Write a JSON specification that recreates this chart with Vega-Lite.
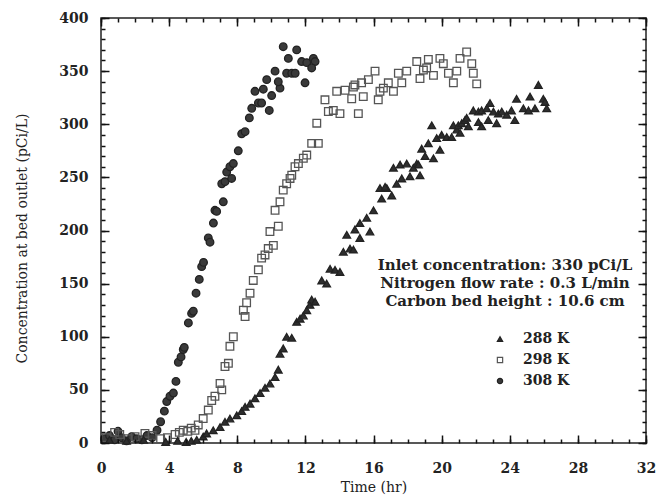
{
 "$schema": "https://vega.github.io/schema/vega-lite/v6.json",
 "width": 545,
 "height": 425,
 "autosize": {"type": "none"},
 "padding": {"left": 101, "top": 18, "right": 14, "bottom": 54},
 "background": "white",
 "config": {"view": {"stroke": "#222", "strokeWidth": 1.5, "fill": "transparent"}, "font": "DejaVu Serif",
  "text": {"font": "DejaVu Serif", "fontWeight": "bold", "fontSize": 15, "align": "center", "baseline": "middle", "color": "#222"}},
 "layer": [
  {
   "data": {"values": [
    {"t":0.2,"c":4,"s":"308 K"},{"t":0.5,"c":7,"s":"308 K"},{"t":0.8,"c":3,"s":"308 K"},{"t":1.0,"c":11,"s":"308 K"},{"t":1.2,"c":5,"s":"308 K"},{"t":1.5,"c":2,"s":"308 K"},{"t":1.8,"c":6,"s":"308 K"},{"t":2.1,"c":4,"s":"308 K"},{"t":2.4,"c":3,"s":"308 K"},{"t":2.7,"c":7,"s":"308 K"},{"t":3.0,"c":5,"s":"308 K"},
    {"t":3.29,"c":12,"s":"308 K"},{"t":3.5,"c":20,"s":"308 K"},{"t":3.72,"c":30,"s":"308 K"},{"t":3.86,"c":39,"s":"308 K"},{"t":4.05,"c":44,"s":"308 K"},{"t":4.25,"c":47,"s":"308 K"},{"t":4.4,"c":58,"s":"308 K"},{"t":4.54,"c":76,"s":"308 K"},{"t":4.7,"c":81,"s":"308 K"},{"t":4.83,"c":88,"s":"308 K"},{"t":4.89,"c":90,"s":"308 K"},{"t":5.13,"c":113,"s":"308 K"},{"t":5.32,"c":122,"s":"308 K"},{"t":5.42,"c":124,"s":"308 K"},{"t":5.58,"c":141,"s":"308 K"},{"t":5.77,"c":154,"s":"308 K"},{"t":5.91,"c":166,"s":"308 K"},{"t":6.02,"c":170,"s":"308 K"},{"t":6.3,"c":193,"s":"308 K"},{"t":6.4,"c":189,"s":"308 K"},{"t":6.6,"c":207,"s":"308 K"},{"t":6.69,"c":219,"s":"308 K"},{"t":6.79,"c":218,"s":"308 K"},{"t":7.18,"c":227,"s":"308 K"},
    {"t":7.09,"c":244,"s":"308 K"},{"t":7.28,"c":246,"s":"308 K"},{"t":7.67,"c":249,"s":"308 K"},{"t":7.38,"c":255,"s":"308 K"},{"t":7.57,"c":260,"s":"308 K"},{"t":7.77,"c":263,"s":"308 K"},{"t":8.06,"c":275,"s":"308 K"},{"t":8.26,"c":291,"s":"308 K"},{"t":8.46,"c":293,"s":"308 K"},{"t":8.71,"c":306,"s":"308 K"},{"t":8.85,"c":315,"s":"308 K"},{"t":9.24,"c":320,"s":"308 K"},{"t":9.43,"c":320,"s":"308 K"},{"t":9.88,"c":313,"s":"308 K"},{"t":10.02,"c":327,"s":"308 K"},{"t":9.04,"c":331,"s":"308 K"},{"t":9.53,"c":333,"s":"308 K"},{"t":10.51,"c":334,"s":"308 K"},{"t":9.73,"c":342,"s":"308 K"},{"t":10.41,"c":340,"s":"308 K"},{"t":11.98,"c":339,"s":"308 K"},{"t":10.22,"c":350,"s":"308 K"},{"t":10.9,"c":348,"s":"308 K"},{"t":11.2,"c":348,"s":"308 K"},{"t":11.4,"c":348,"s":"308 K"},{"t":11.78,"c":359,"s":"308 K"},{"t":12.08,"c":358,"s":"308 K"},{"t":12.47,"c":362,"s":"308 K"},{"t":12.57,"c":359,"s":"308 K"},{"t":12.37,"c":353,"s":"308 K"},{"t":11.0,"c":362,"s":"308 K"},{"t":11.49,"c":370,"s":"308 K"},{"t":10.7,"c":373,"s":"308 K"},
    {"t":0.3,"c":5,"s":"298 K"},{"t":0.8,"c":10,"s":"298 K"},{"t":1.1,"c":8,"s":"298 K"},{"t":1.6,"c":4,"s":"298 K"},{"t":2.0,"c":6,"s":"298 K"},{"t":2.58,"c":9,"s":"298 K"},{"t":3.0,"c":7,"s":"298 K"},{"t":3.5,"c":4,"s":"298 K"},{"t":3.9,"c":5,"s":"298 K"},{"t":4.35,"c":8,"s":"298 K"},{"t":4.6,"c":10,"s":"298 K"},{"t":4.83,"c":12,"s":"298 K"},{"t":5.1,"c":11,"s":"298 K"},{"t":5.3,"c":14,"s":"298 K"},{"t":5.52,"c":12,"s":"298 K"},{"t":5.71,"c":17,"s":"298 K"},{"t":6.0,"c":23,"s":"298 K"},{"t":6.3,"c":31,"s":"298 K"},{"t":6.5,"c":40,"s":"298 K"},{"t":6.69,"c":44,"s":"298 K"},{"t":6.99,"c":56,"s":"298 K"},{"t":7.09,"c":50,"s":"298 K"},{"t":7.28,"c":72,"s":"298 K"},{"t":7.48,"c":75,"s":"298 K"},{"t":7.57,"c":91,"s":"298 K"},{"t":7.77,"c":100,"s":"298 K"},{"t":8.36,"c":125,"s":"298 K"},{"t":8.46,"c":119,"s":"298 K"},{"t":8.55,"c":132,"s":"298 K"},{"t":8.75,"c":141,"s":"298 K"},{"t":8.94,"c":153,"s":"298 K"},{"t":9.24,"c":163,"s":"298 K"},{"t":9.43,"c":174,"s":"298 K"},{"t":9.63,"c":177,"s":"298 K"},{"t":9.82,"c":183,"s":"298 K"},{"t":10.12,"c":186,"s":"298 K"},{"t":9.92,"c":199,"s":"298 K"},{"t":10.41,"c":204,"s":"298 K"},{"t":10.22,"c":219,"s":"298 K"},{"t":10.51,"c":227,"s":"298 K"},{"t":10.7,"c":238,"s":"298 K"},{"t":10.9,"c":244,"s":"298 K"},{"t":11.1,"c":249,"s":"298 K"},{"t":11.2,"c":252,"s":"298 K"},{"t":11.39,"c":260,"s":"298 K"},{"t":11.59,"c":263,"s":"298 K"},{"t":11.88,"c":268,"s":"298 K"},{"t":12.08,"c":271,"s":"298 K"},{"t":12.37,"c":282,"s":"298 K"},{"t":12.76,"c":282,"s":"298 K"},{"t":12.67,"c":301,"s":"298 K"},{"t":13.15,"c":323,"s":"298 K"},{"t":13.35,"c":312,"s":"298 K"},{"t":13.64,"c":313,"s":"298 K"},{"t":14.03,"c":310,"s":"298 K"},{"t":13.84,"c":331,"s":"298 K"},{"t":14.33,"c":332,"s":"298 K"},{"t":14.82,"c":335,"s":"298 K"},{"t":14.72,"c":324,"s":"298 K"},{"t":15.11,"c":310,"s":"298 K"},{"t":15.4,"c":326,"s":"298 K"},{"t":14.91,"c":337,"s":"298 K"},{"t":15.3,"c":339,"s":"298 K"},{"t":15.7,"c":342,"s":"298 K"},{"t":16.09,"c":350,"s":"298 K"},{"t":16.28,"c":323,"s":"298 K"},{"t":16.38,"c":331,"s":"298 K"},{"t":16.58,"c":334,"s":"298 K"},{"t":16.87,"c":339,"s":"298 K"},{"t":17.17,"c":331,"s":"298 K"},{"t":17.46,"c":348,"s":"298 K"},{"t":17.95,"c":350,"s":"298 K"},{"t":17.66,"c":339,"s":"298 K"},{"t":18.54,"c":359,"s":"298 K"},{"t":18.73,"c":343,"s":"298 K"},{"t":18.93,"c":351,"s":"298 K"},{"t":19.12,"c":353,"s":"298 K"},{"t":19.22,"c":361,"s":"298 K"},{"t":19.52,"c":346,"s":"298 K"},{"t":19.9,"c":362,"s":"298 K"},{"t":20.1,"c":357,"s":"298 K"},{"t":20.4,"c":348,"s":"298 K"},{"t":20.69,"c":339,"s":"298 K"},{"t":20.89,"c":350,"s":"298 K"},{"t":21.08,"c":362,"s":"298 K"},{"t":21.47,"c":368,"s":"298 K"},{"t":21.77,"c":357,"s":"298 K"},{"t":21.86,"c":348,"s":"298 K"},{"t":22.06,"c":338,"s":"298 K"},
    {"t":0.5,"c":3,"s":"288 K"},{"t":1.5,"c":2,"s":"288 K"},{"t":2.5,"c":3,"s":"288 K"},{"t":3.8,"c":1,"s":"288 K"},{"t":4.5,"c":2,"s":"288 K"},{"t":5.0,"c":1,"s":"288 K"},{"t":5.3,"c":2,"s":"288 K"},{"t":5.62,"c":3,"s":"288 K"},{"t":6.0,"c":6,"s":"288 K"},{"t":6.2,"c":9,"s":"288 K"},{"t":6.59,"c":12,"s":"288 K"},{"t":6.99,"c":15,"s":"288 K"},{"t":7.28,"c":20,"s":"288 K"},{"t":7.57,"c":23,"s":"288 K"},{"t":7.97,"c":26,"s":"288 K"},{"t":8.26,"c":30,"s":"288 K"},{"t":8.46,"c":34,"s":"288 K"},{"t":8.75,"c":37,"s":"288 K"},{"t":9.04,"c":42,"s":"288 K"},{"t":9.34,"c":47,"s":"288 K"},{"t":9.63,"c":52,"s":"288 K"},{"t":9.92,"c":56,"s":"288 K"},{"t":10.22,"c":62,"s":"288 K"},{"t":10.41,"c":69,"s":"288 K"},{"t":10.51,"c":84,"s":"288 K"},{"t":10.7,"c":89,"s":"288 K"},{"t":10.9,"c":100,"s":"288 K"},{"t":11.2,"c":99,"s":"288 K"},{"t":11.49,"c":114,"s":"288 K"},{"t":11.69,"c":117,"s":"288 K"},{"t":11.88,"c":120,"s":"288 K"},{"t":12.08,"c":125,"s":"288 K"},{"t":12.27,"c":130,"s":"288 K"},{"t":12.37,"c":135,"s":"288 K"},{"t":12.57,"c":133,"s":"288 K"},{"t":12.96,"c":153,"s":"288 K"},{"t":13.25,"c":150,"s":"288 K"},{"t":13.45,"c":164,"s":"288 K"},{"t":13.74,"c":163,"s":"288 K"},{"t":14.03,"c":161,"s":"288 K"},{"t":14.23,"c":180,"s":"288 K"},{"t":14.62,"c":183,"s":"288 K"},{"t":14.82,"c":182,"s":"288 K"},{"t":14.43,"c":196,"s":"288 K"},{"t":14.91,"c":201,"s":"288 K"},{"t":15.2,"c":193,"s":"288 K"},{"t":15.79,"c":199,"s":"288 K"},{"t":15.2,"c":207,"s":"288 K"},{"t":15.6,"c":212,"s":"288 K"},{"t":16.0,"c":219,"s":"288 K"},{"t":16.48,"c":230,"s":"288 K"},{"t":16.78,"c":240,"s":"288 K"},{"t":17.07,"c":233,"s":"288 K"},{"t":17.36,"c":244,"s":"288 K"},{"t":16.38,"c":240,"s":"288 K"},{"t":16.68,"c":241,"s":"288 K"},{"t":17.17,"c":259,"s":"288 K"},{"t":17.56,"c":262,"s":"288 K"},{"t":17.95,"c":263,"s":"288 K"},{"t":17.66,"c":249,"s":"288 K"},{"t":18.14,"c":251,"s":"288 K"},{"t":18.34,"c":259,"s":"288 K"},{"t":18.54,"c":263,"s":"288 K"},{"t":18.64,"c":262,"s":"288 K"},{"t":18.73,"c":252,"s":"288 K"},{"t":18.83,"c":277,"s":"288 K"},{"t":19.22,"c":282,"s":"288 K"},{"t":19.03,"c":270,"s":"288 K"},{"t":19.52,"c":268,"s":"288 K"},{"t":19.9,"c":276,"s":"288 K"},{"t":19.42,"c":299,"s":"288 K"},{"t":19.71,"c":287,"s":"288 K"},{"t":20.0,"c":290,"s":"288 K"},{"t":20.3,"c":288,"s":"288 K"},{"t":20.59,"c":288,"s":"288 K"},{"t":20.89,"c":295,"s":"288 K"},{"t":21.08,"c":292,"s":"288 K"},{"t":20.69,"c":299,"s":"288 K"},{"t":20.98,"c":299,"s":"288 K"},{"t":21.18,"c":301,"s":"288 K"},{"t":21.37,"c":304,"s":"288 K"},{"t":21.47,"c":306,"s":"288 K"},{"t":21.57,"c":298,"s":"288 K"},{"t":21.86,"c":313,"s":"288 K"},{"t":22.16,"c":312,"s":"288 K"},{"t":22.35,"c":313,"s":"288 K"},{"t":22.65,"c":315,"s":"288 K"},{"t":22.84,"c":320,"s":"288 K"},{"t":23.04,"c":312,"s":"288 K"},{"t":23.33,"c":310,"s":"288 K"},{"t":23.53,"c":312,"s":"288 K"},{"t":23.82,"c":309,"s":"288 K"},{"t":24.1,"c":313,"s":"288 K"},{"t":24.3,"c":304,"s":"288 K"},{"t":22.74,"c":304,"s":"288 K"},{"t":23.23,"c":301,"s":"288 K"},{"t":22.16,"c":302,"s":"288 K"},{"t":22.35,"c":298,"s":"288 K"},{"t":24.4,"c":324,"s":"288 K"},{"t":25.19,"c":326,"s":"288 K"},{"t":25.68,"c":337,"s":"288 K"},{"t":25.97,"c":324,"s":"288 K"},{"t":26.07,"c":321,"s":"288 K"},{"t":24.8,"c":315,"s":"288 K"},{"t":25.1,"c":313,"s":"288 K"},{"t":25.48,"c":315,"s":"288 K"},{"t":26.17,"c":315,"s":"288 K"}
   ]},
   "mark": {"type": "point", "size": 58, "strokeWidth": 1.3, "opacity": 1},
   "encoding": {
    "x": {"field": "t", "type": "quantitative", "scale": {"domain": [0, 32], "nice": false},
     "axis": {"orient": "bottom", "zindex": 1, "values": [0,1,2,3,4,5,6,7,8,9,10,11,12,13,14,15,16,17,18,19,20,21,22,23,24,25,26,27,28,29,30,31,32],
      "labelExpr": "datum.value % 4 === 0 ? datum.label : ''", "tickSize": -4, "labelPadding": 22,
      "labelFont": "DejaVu Serif", "labelFontWeight": "bold", "labelFontSize": 14, "labelColor": "#222",
      "tickColor": "#111", "tickWidth": 1.5, "domain": false, "grid": false, "labelFlush": false, "labelOverlap": false, "labelBound": false,
      "title": "Time (hr)", "titleFont": "DejaVu Serif", "titleFontWeight": "normal", "titleFontSize": 14, "titleColor": "#222", "titlePadding": 5}},
    "y": {"field": "c", "type": "quantitative", "scale": {"domain": [0, 400], "nice": false},
     "axis": {"orient": "left", "zindex": 1, "values": [0,10,20,30,40,50,60,70,80,90,100,110,120,130,140,150,160,170,180,190,200,210,220,230,240,250,260,270,280,290,300,310,320,330,340,350,360,370,380,390,400],
      "labelExpr": "datum.value % 50 === 0 ? datum.label : ''", "tickSize": -4, "labelPadding": 17,
      "labelFont": "DejaVu Serif", "labelFontWeight": "bold", "labelFontSize": 14, "labelColor": "#222",
      "tickColor": "#111", "tickWidth": 1.5, "domain": false, "grid": false, "labelFlush": false, "labelOverlap": false, "labelBound": false,
      "title": "Concentration at bed outlet (pCi/L)", "titleFont": "DejaVu Serif", "titleFontWeight": "normal", "titleFontSize": 14, "titleColor": "#222", "titlePadding": 29, "titleY": 220}},
    "shape": {"field": "s", "type": "nominal", "scale": {"domain": ["288 K", "298 K", "308 K"], "range": ["triangle-up", "square", "circle"]},
     "legend": {"orient": "none", "legendX": 392, "legendY": 314, "title": null, "labelFont": "DejaVu Serif", "labelFontWeight": "bold", "labelFontSize": 14, "labelColor": "#222", "symbolSize": 28, "rowPadding": 7, "labelOffset": 16, "symbolStrokeWidth": 1.2}},
    "fill": {"field": "s", "type": "nominal", "scale": {"domain": ["288 K", "298 K", "308 K"], "range": ["#2e2e2e", "transparent", "#3a3a3a"]},
     "legend": {"orient": "none", "legendX": 392, "legendY": 314, "title": null, "labelFont": "DejaVu Serif", "labelFontWeight": "bold", "labelFontSize": 14, "labelColor": "#222", "symbolSize": 28, "rowPadding": 7, "labelOffset": 16, "symbolStrokeWidth": 1.2}},
    "stroke": {"field": "s", "type": "nominal", "scale": {"domain": ["288 K", "298 K", "308 K"], "range": ["#222222", "#555555", "#222222"]},
     "legend": {"orient": "none", "legendX": 392, "legendY": 314, "title": null, "labelFont": "DejaVu Serif", "labelFontWeight": "bold", "labelFontSize": 14, "labelColor": "#222", "symbolSize": 28, "rowPadding": 7, "labelOffset": 16, "symbolStrokeWidth": 1.2}}
   }
  },
  {
   "data": {"values": [{"t": 23.72, "c": 167.5, "label": "Inlet concentration: 330 pCi/L"}]},
   "mark": {"type": "text"},
   "encoding": {
    "x": {"field": "t", "type": "quantitative", "scale": {"domain": [0, 32], "nice": false},
     "axis": {"orient": "top", "zindex": 1, "values": [0,1,2,3,4,5,6,7,8,9,10,11,12,13,14,15,16,17,18,19,20,21,22,23,24,25,26,27,28,29,30,31,32],
      "labels": false, "tickSize": -4, "tickColor": "#111", "tickWidth": 1.5, "domain": false, "grid": false, "title": null}},
    "y": {"field": "c", "type": "quantitative", "scale": {"domain": [0, 400], "nice": false},
     "axis": {"orient": "right", "zindex": 1, "values": [0,10,20,30,40,50,60,70,80,90,100,110,120,130,140,150,160,170,180,190,200,210,220,230,240,250,260,270,280,290,300,310,320,330,340,350,360,370,380,390,400],
      "labels": false, "tickSize": -4, "tickColor": "#111", "tickWidth": 1.5, "domain": false, "grid": false, "title": null}},
    "text": {"field": "label"}
   }
  },
  {
   "data": {"values": [{"t": 23.72, "c": 151, "label": "Nitrogen flow rate : 0.3 L/min"}]},
   "mark": {"type": "text"},
   "encoding": {
    "x": {"field": "t", "type": "quantitative", "scale": {"domain": [0, 32], "nice": false},
     "axis": {"orient": "bottom", "zindex": 1, "values": [0,4,8,12,16,20,24,28,32],
      "labels": false, "tickSize": -8, "tickColor": "#111", "tickWidth": 1.5, "domain": false, "grid": false, "title": null}},
    "y": {"field": "c", "type": "quantitative", "scale": {"domain": [0, 400], "nice": false},
     "axis": {"orient": "left", "zindex": 1, "values": [0,50,100,150,200,250,300,350,400],
      "labels": false, "tickSize": -8, "tickColor": "#111", "tickWidth": 1.5, "domain": false, "grid": false, "title": null}},
    "text": {"field": "label"}
   }
  },
  {
   "data": {"values": [{"t": 23.72, "c": 134, "label": "Carbon bed height : 10.6 cm"}]},
   "mark": {"type": "text"},
   "encoding": {
    "x": {"field": "t", "type": "quantitative", "scale": {"domain": [0, 32], "nice": false},
     "axis": {"orient": "top", "zindex": 1, "values": [0,4,8,12,16,20,24,28,32],
      "labels": false, "tickSize": -8, "tickColor": "#111", "tickWidth": 1.5, "domain": false, "grid": false, "title": null}},
    "y": {"field": "c", "type": "quantitative", "scale": {"domain": [0, 400], "nice": false},
     "axis": {"orient": "right", "zindex": 1, "values": [0,50,100,150,200,250,300,350,400],
      "labels": false, "tickSize": -8, "tickColor": "#111", "tickWidth": 1.5, "domain": false, "grid": false, "title": null}},
    "text": {"field": "label"}
   }
  }
 ],
 "resolve": {"axis": {"x": "independent", "y": "independent"}}
}
